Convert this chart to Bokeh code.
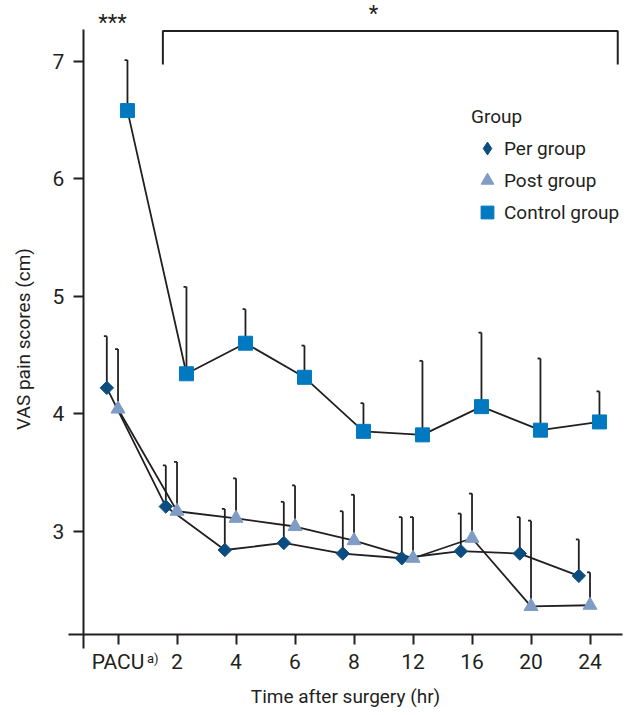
import numpy as np
from bokeh.plotting import figure
from bokeh.models import Range1d, FixedTicker, Legend, LegendItem, Label
from bokeh.core.properties import value
from bokeh.embed import file_html
from bokeh.resources import INLINE

# ---- data ----
categories = ["PACU", "2", "4", "6", "8", "12", "16", "20", "24"]
per_mean = [4.22, 3.21, 2.84, 2.90, 2.81, 2.77, 2.83, 2.81, 2.62]
per_sd = [0.44, 0.35, 0.35, 0.35, 0.36, 0.35, 0.32, 0.31, 0.31]
post_mean = [4.04, 3.17, 3.11, 3.04, 2.92, 2.77, 2.94, 2.36, 2.37]
post_sd = [0.51, 0.42, 0.34, 0.35, 0.39, 0.35, 0.38, 0.73, 0.28]
control_mean = [6.58, 4.34, 4.60, 4.31, 3.85, 3.82, 4.06, 3.86, 3.93]
control_sd = [0.43, 0.74, 0.29, 0.27, 0.24, 0.63, 0.63, 0.61, 0.26]
y_ticks = [3, 4, 5, 6, 7]

FONT = "Roboto"
INK = "#231F20"
C_PER = "#0B4D80"
C_POST = "#7F9CC4"
C_CTRL = "#0079C1"

p = figure(width=634, height=715, output_backend="svg", toolbar_location=None,
           x_range=Range1d(-1.992, 8.754), y_range=Range1d(1.4315, 7.517),
           min_border_left=0, min_border_right=0, min_border_top=0, min_border_bottom=0)
p.title.visible = False
p.xgrid.visible = False
p.ygrid.visible = False
p.outline_line_color = None
p.background_fill_color = "white"
p.border_fill_color = "white"

# axes (placed at fixed data locations inside the frame)
xa = p.xaxis[0]
xa.fixed_location = 2.125
xa.bounds = (-0.839, 8.551)
xa.ticker = FixedTicker(ticks=list(range(len(categories))))
xa.major_label_overrides = {i: c for i, c in enumerate(categories)}
xa.axis_label = "Time after surgery (hr)"
ya = p.yaxis[0]
ya.fixed_location = -0.59
ya.bounds = (2.0, 7.274)
ya.ticker = FixedTicker(ticks=y_ticks)
ya.axis_label = "VAS pain scores (cm)"
for ax in (xa, ya):
    ax.axis_line_color = INK
    ax.axis_line_width = 2
    ax.major_tick_line_color = INK
    ax.major_tick_line_width = 2
    ax.major_tick_out = 10
    ax.major_tick_in = 0
    ax.minor_tick_line_color = None
    ax.major_label_text_font = FONT
    ax.major_label_text_font_size = "21px"
    ax.major_label_text_color = INK
    ax.axis_label_text_font = FONT
    ax.axis_label_text_font_size = "19px"
    ax.axis_label_text_font_style = "normal"
    ax.axis_label_text_color = INK
xa.major_label_standoff = 6
xa.axis_label_standoff = 7
ya.major_label_standoff = 9
ya.axis_label_standoff = 15

groups = [
    (per_mean, per_sd, -0.19, C_PER),
    (post_mean, post_sd, 0.0, C_POST),
    (control_mean, control_sd, 0.16, C_CTRL),
]
base = np.arange(len(categories))
for mean, sd, off, col in groups:
    p.line(base + off, mean, line_color=INK, line_width=1.8)
for mean, sd, off, col in groups:
    xs = base + off
    top = np.array(mean) + np.array(sd)
    p.segment(x0=xs, y0=mean, x1=xs, y1=top, line_color=INK, line_width=1.8)
    p.segment(x0=xs - 0.05, y0=top, x1=xs, y1=top, line_color=INK, line_width=1.8)

p.scatter(base - 0.19, per_mean, marker="square", angle=np.pi / 4, size=9.5,
          fill_color=C_PER, line_color=C_PER)
r_post = p.scatter(base, post_mean, marker="triangle", size=14,
                   fill_color=C_POST, line_color=C_POST)
r_ctrl = p.scatter(base + 0.16, control_mean, marker="square", size=14,
                   fill_color=C_CTRL, line_color=C_CTRL)
# legend proxy for the diamond marker (not drawn in the plot area)
r_per_leg = p.scatter(x=[np.nan], y=[np.nan], marker="diamond", fill_color=C_PER,
                      line_color=C_PER)

# significance bracket
p.multi_line(xs=[[0.76, 0.76, 8.47, 8.47]], ys=[[6.972, 7.257, 7.257, 6.972]],
             line_color=INK, line_width=2)
p.text(x=[-0.093], y=[7.334], text=["***"], text_font=value(FONT), text_font_size="22px",
       text_align="center", text_baseline="middle", text_color=INK)
p.text(x=[4.33], y=[7.405], text=["*"], text_font=value(FONT), text_font_size="22px",
       text_align="center", text_baseline="middle", text_color=INK)

# superscript on PACU tick label
p.add_layout(Label(x=0.49, y=1.92, text="a)", text_font=FONT, text_font_size="13px",
                   text_color=INK, text_align="left", text_baseline="middle"))

legend = Legend(items=[LegendItem(label="Per group", renderers=[r_per_leg]),
                       LegendItem(label="Post group", renderers=[r_post]),
                       LegendItem(label="Control group", renderers=[r_ctrl])],
                location=(471, 487), title="Group")
legend.padding = 0
legend.margin = 0
legend.spacing = 0
legend.border_line_color = None
legend.background_fill_alpha = 0
legend.glyph_width = 32
legend.glyph_height = 32
legend.label_height = 32
legend.label_standoff = 1
legend.title_standoff = 4
legend.label_text_font = FONT
legend.label_text_font_size = "19px"
legend.label_text_color = INK
legend.title_text_font = FONT
legend.title_text_font_size = "19px"
legend.title_text_font_style = "normal"
legend.title_text_color = INK
p.add_layout(legend)

open("out.html", "w").write(file_html(p, INLINE))
